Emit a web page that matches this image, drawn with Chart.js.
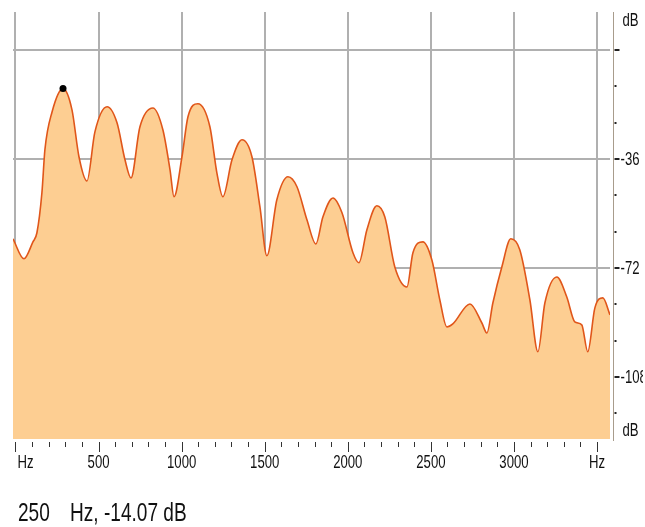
<!DOCTYPE html>
<html>
<head>
<meta charset="utf-8">
<script src="https://cdn.jsdelivr.net/npm/chart.js@4/dist/chart.umd.min.js"></script>
<style>
  html, body { margin: 0; padding: 0; background: #fff; overflow: hidden; }
  canvas { display: block; }
</style>
</head>
<body>
<canvas id="spectrum" width="645" height="527"></canvas>
<script>
// spectrum curve
const freqHz = [-15, 51, 105, 129, 159, 177, 220, 286, 340, 382, 430, 478, 551, 611, 659, 695,
  749, 827, 887, 930, 954, 1002, 1038, 1098, 1170, 1212, 1248, 1303, 1363, 1423, 1471, 1513,
  1573, 1640, 1694, 1754, 1808, 1850, 1911, 1965, 2031, 2067, 2115, 2175, 2223, 2283, 2356,
  2392, 2452, 2506, 2554, 2596, 2632, 2735, 2807, 2837, 2873, 2927, 2981, 3035, 3096, 3144,
  3186, 3258, 3318, 3366, 3408, 3444, 3487, 3535, 3578];
const levelDb = [-62.4, -69.0, -63.4, -60.4, -47.2, -33.0, -20.5, -12.8, -19.8, -35.3, -43.3,
  -27.1, -18.8, -24.1, -36.3, -42.3, -25.4, -19.2, -26.4, -39.6, -48.5, -35.3, -22.1, -17.8,
  -25.4, -40.6, -48.5, -36.3, -29.7, -35.3, -51.8, -68.0, -49.5, -41.9, -45.2, -56.1, -64.1,
  -55.2, -48.9, -53.8, -67.0, -70.3, -59.4, -51.5, -55.2, -71.7, -78.3, -67.0, -63.4, -69.4,
  -82.6, -91.5, -90.5, -83.9, -90.2, -93.5, -83.6, -71.7, -62.4, -66.0, -82.6, -99.7, -83.6,
  -75.0, -81.6, -89.8, -90.8, -99.7, -85.2, -81.9, -87.5];

// cursor marker
const markerHz = [286];
const markerDb = [-12.8];
const readoutHz = "250";
const readoutDb = "Hz, -14.07 dB";

// axes
const freqTickValues = [0, 500, 1000, 1500, 2000, 2500, 3000, 3500];
const freqTickLabels = ["Hz", "500", "1000", "1500", "2000", "2500", "3000", "Hz"];
const dbTickValues = [0, -36, -72, -108];
const dbTickLabels = ["", "-36", "-72", "-108"];
const dbMinorTicks = [-12, -24, -48, -60, -84, -96, -120];

const FONT = '"Liberation Sans", Arial, sans-serif';

const curve = freqHz.map((f, i) => ({ x: f, y: levelDb[i] }));
const marker = markerHz.map((f, i) => ({ x: f, y: markerDb[i] }));

// narrow text: the original uses a condensed face
function txt(ctx, s, x, y, align, sx) {
  ctx.save();
  ctx.translate(x, y);
  ctx.scale(sx, 1);
  ctx.textAlign = align;
  ctx.fillText(s, 0, 0);
  ctx.restore();
}

const decor = {
  id: "decor",
  afterDraw(chart) {
    const ctx = chart.ctx;
    const a = chart.chartArea;
    const xs = chart.scales.x, ys = chart.scales.y;
    ctx.save();

    // bottom ticks every 100 Hz
    ctx.strokeStyle = "#333";
    ctx.lineWidth = 1;
    for (let f = 0; f <= 3500; f += 100) {
      const px = Math.round(xs.getPixelForValue(f)) + 0.5;
      const len = f % 500 === 0 ? 10 : 5;
      ctx.beginPath();
      ctx.moveTo(px, a.bottom + 3);
      ctx.lineTo(px, a.bottom + 3 + len);
      ctx.stroke();
    }
    ctx.fillStyle = "#111";
    ctx.font = "18px " + FONT;
    ctx.textBaseline = "middle";
    freqTickValues.forEach((v, i) => {
      const px = xs.getPixelForValue(v);
      txt(ctx, freqTickLabels[i], i === 0 ? px + 2 : px, a.bottom + 24, i === 0 ? "left" : "center", 0.73);
    });

    // right axis
    const ax = a.right + 3.5;
    ctx.strokeStyle = "#a89c8c";
    ctx.beginPath();
    ctx.moveTo(ax, a.top);
    ctx.lineTo(ax, a.bottom + 2);
    ctx.stroke();
    ctx.strokeStyle = "#222";
    ctx.lineWidth = 2;
    dbTickValues.forEach(v => {
      const py = Math.round(ys.getPixelForValue(v));
      ctx.beginPath();
      ctx.moveTo(ax + 1, py);
      ctx.lineTo(ax + 6, py);
      ctx.stroke();
    });
    ctx.fillStyle = "#222";
    dbMinorTicks.forEach(v => {
      const py = Math.round(ys.getPixelForValue(v));
      ctx.fillRect(ax + 1, py - 1, 2, 2);
    });
    ctx.fillStyle = "#111";
    ctx.save();
    ctx.beginPath();
    ctx.rect(ax, 0, 643 - ax, 527);
    ctx.clip();
    dbTickValues.forEach((v, i) => {
      txt(ctx, dbTickLabels[i], ax + 7, ys.getPixelForValue(v) + 1, "left", 0.73);
    });
    ctx.restore();
    txt(ctx, "dB", ax + 9, a.top + 9, "left", 0.73);
    txt(ctx, "dB", ax + 9, a.bottom - 8, "left", 0.73);

    // readout
    ctx.font = "26.5px " + FONT;
    txt(ctx, readoutHz, 18, 514, "left", 0.72);
    txt(ctx, readoutDb, 70, 514, "left", 0.72);
    ctx.restore();
  }
};

new Chart(document.getElementById("spectrum"), {
  type: "scatter",
  data: {
    datasets: [
      {
        data: marker,
        pointRadius: 3.5,
        pointBackgroundColor: "#000",
        pointBorderWidth: 0,
        showLine: false
      },
      {
        data: curve,
        showLine: true,
        borderColor: "#e0561a",
        borderWidth: 1.6,
        backgroundColor: "#fdce92",
        fill: "start",
        pointRadius: 0,
        cubicInterpolationMode: "monotone"
      }
    ]
  },
  options: {
    responsive: false,
    animation: false,
    events: [],
    layout: { padding: { left: 13, top: 12, right: 35, bottom: 88 } },
    plugins: { legend: { display: false }, tooltip: { enabled: false } },
    scales: {
      x: {
        type: "linear",
        min: -15,
        max: 3578,
        afterBuildTicks: s => { s.ticks = freqTickValues.map(v => ({ value: v })); },
        ticks: { display: false },
        border: { display: false },
        grid: { drawTicks: false, color: "#b0b0b0", lineWidth: 2 }
      },
      y: {
        type: "linear",
        position: "right",
        min: -128.5,
        max: 12.5,
        afterBuildTicks: s => { s.ticks = dbTickValues.map(v => ({ value: v })); },
        ticks: { display: false },
        border: { display: false },
        grid: { drawTicks: false, color: "#b0b0b0", lineWidth: 2 }
      }
    }
  },
  plugins: [decor]
});
</script>
</body>
</html>
